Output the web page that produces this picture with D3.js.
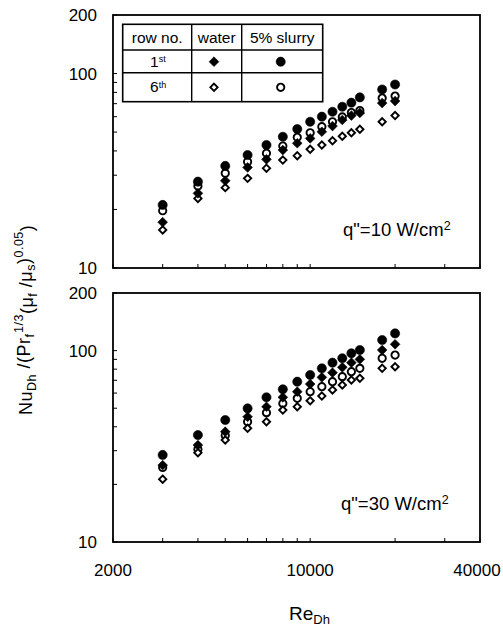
<!DOCTYPE html>
<html>
<head>
<meta charset="utf-8">
<script src="https://cdn.jsdelivr.net/npm/d3@7"></script>
<style>
  body { margin: 0; background: #fff; }
  svg { font-family: "Liberation Sans", Arial, Helvetica, sans-serif; }
</style>
</head>
<body>
<div id="chart"></div>
<script>
// Reynolds numbers of the measured columns
var re = [3000, 4000, 5000, 6000, 7000, 8000, 9000, 10000, 11000, 12000, 13000, 14000, 15000, 18000, 20000];

// q" = 10 W/cm2
var top_water1 = [17.2, 24.2, 28.1, 32.9, 36.2, 40.4, 43.8, 46.4, 50.2, 53.7, 57.7, 60.8, 62.7, 70.5, 72.2];
var top_slurry1 = [21.1, 27.8, 33.5, 38.1, 42.9, 47.3, 51.8, 56.5, 60.0, 63.6, 67.5, 70.8, 75.4, 82.8, 87.8];
var top_water6 = [15.7, 22.8, 25.9, 28.9, 32.6, 35.9, 37.8, 40.8, 42.9, 45.1, 47.6, 49.6, 51.7, 56.5, 60.8];
var top_slurry6 = [19.7, 26.4, 30.7, 35.2, 38.9, 42.4, 47.0, 49.6, 53.3, 56.5, 59.8, 63.0, 64.5, 74.8, 76.6];

// q" = 30 W/cm2
var bot_water1 = [25.2, 32.1, 37.7, 45.1, 50.9, 57.0, 61.0, 66.9, 72.5, 76.7, 81.8, 86.5, 90.0, 100.7, 107.9];
var bot_slurry1 = [28.5, 36.2, 43.4, 49.9, 57.0, 62.8, 68.8, 74.6, 80.8, 86.5, 91.2, 96.8, 100.7, 113.6, 123.0];
var bot_water6 = [21.3, 29.3, 34.1, 39.3, 42.5, 48.9, 50.9, 54.7, 57.9, 62.3, 66.1, 70.2, 71.7, 80.8, 82.4];
var bot_slurry6 = [24.5, 30.5, 36.0, 42.5, 47.4, 53.0, 56.3, 61.0, 64.8, 68.8, 73.1, 77.6, 80.8, 91.2, 94.8];

var xTicks = [2000, 10000, 40000];
var xMinor = [3000, 4000, 5000, 6000, 7000, 8000, 9000, 20000, 30000];
var yTicks = [10, 100, 200];
var yMinor = [20, 30, 40, 50, 60, 70, 80, 90];

var W = 503, H = 628;
var svg = d3.select("#chart").append("svg")
    .attr("width", W).attr("height", H);

var x = d3.scaleLog().domain([2000, 40000]).range([113, 480]);

var diamond = d3.symbol().type(d3.symbolDiamond2).size(60);
var circle = d3.symbol().type(d3.symbolCircle).size(66);
var odiamond = d3.symbol().type(d3.symbolDiamond2).size(34);
var ocircle = d3.symbol().type(d3.symbolCircle).size(42);

function panel(y0, y1, series, label) {
  var y = d3.scaleLog().domain([10, 200]).range([y1, y0]);
  var g = svg.append("g");

  // minor / major ticks, pointing inward
  g.selectAll(".xt")
    .data(xMinor.concat(xTicks))
    .enter().append("line")
      .attr("x1", function(d) { return x(d); })
      .attr("x2", function(d) { return x(d); })
      .attr("y1", y1)
      .attr("y2", y1 - 4)
      .attr("stroke", "#000").attr("stroke-width", 1);
  g.selectAll(".yt")
    .data(yMinor.concat(yTicks))
    .enter().append("line")
      .attr("x1", x.range()[0])
      .attr("x2", x.range()[0] + 4)
      .attr("y1", function(d) { return y(d); })
      .attr("y2", function(d) { return y(d); })
      .attr("stroke", "#000").attr("stroke-width", 1);

  g.selectAll(".yl")
    .data(yTicks)
    .enter().append("text")
      .attr("x", 97)
      .attr("y", function(d) { return y(d); })
      .attr("dy", "0.36em")
      .attr("text-anchor", "end")
      .attr("font-size", "17px")
      .text(function(d) { return d; });

  // points: open markers first, filled on top
  series.forEach(function(s) {
    g.selectAll(null)
      .data(s.values)
      .enter().append("path")
        .attr("d", s.sym)
        .attr("transform", function(d, i) { return "translate(" + x(re[i]) + "," + y(d) + ")"; })
        .attr("fill", s.fill)
        .attr("stroke", "#000")
        .attr("stroke-width", s.open ? 1.9 : 0.6);
  });

  g.append("text")
      .attr("x", label.x)
      .attr("y", y1 - 32)
      .attr("font-size", "18.5px")
      .text(label.text)
    .append("tspan")
      .attr("dy", "-0.45em")
      .attr("font-size", "12.5px")
      .text("2");

  g.append("rect")
      .attr("x", x.range()[0]).attr("y", y0)
      .attr("width", x.range()[1] - x.range()[0])
      .attr("height", y1 - y0)
      .attr("fill", "none")
      .attr("stroke", "#000").attr("stroke-width", 1.8);
}

panel(15, 268, [
  {values: top_slurry6, sym: ocircle, fill: "#fff", open: true},
  {values: top_water6, sym: odiamond, fill: "#fff", open: true},
  {values: top_water1, sym: diamond, fill: "#000"},
  {values: top_slurry1, sym: circle, fill: "#000"}
], {x: 343, text: 'q"=10 W/cm'});

panel(293, 542, [
  {values: bot_slurry6, sym: ocircle, fill: "#fff", open: true},
  {values: bot_water6, sym: odiamond, fill: "#fff", open: true},
  {values: bot_water1, sym: diamond, fill: "#000"},
  {values: bot_slurry1, sym: circle, fill: "#000"}
], {x: 341, text: 'q"=30 W/cm'});

// x tick labels
svg.selectAll(".xl")
  .data(xTicks)
  .enter().append("text")
    .attr("x", function(d) { return Math.min(x(d), 477); })
    .attr("y", 576)
    .attr("text-anchor", "middle")
    .attr("font-size", "17px")
    .text(function(d) { return d; });

// x axis title
var xt = svg.append("text")
    .attr("x", 289).attr("y", 620)
    .attr("font-size", "19px");
xt.append("tspan").text("Re");
xt.append("tspan").attr("dy", "0.3em").attr("font-size", "13px").text("Dh");

// y axis title
var yt = svg.append("text")
    .attr("transform", "translate(32,415) rotate(-90)")
    .attr("font-size", "18px")
    .attr("letter-spacing", "0.5px");
yt.append("tspan").text("Nu");
yt.append("tspan").attr("dy", "0.3em").attr("font-size", "12.5px").text("Dh");
yt.append("tspan").attr("dy", "-0.3em").text(" /(Pr");
yt.append("tspan").attr("dy", "0.3em").attr("font-size", "12.5px").text("f");
yt.append("tspan").attr("dx", "0.05em").attr("dy", "-0.85em").attr("font-size", "12.5px").text("1/3");
yt.append("tspan").attr("dy", "0.55em").text("(\u03bc");
yt.append("tspan").attr("dy", "0.3em").attr("font-size", "12.5px").text("f");
yt.append("tspan").attr("dy", "-0.3em").text(" /\u03bc");
yt.append("tspan").attr("dy", "0.3em").attr("font-size", "12.5px").text("s");
yt.append("tspan").attr("dy", "-0.3em").text(")");
yt.append("tspan").attr("dy", "-0.55em").attr("font-size", "12.5px").text("0.05");
yt.append("tspan").attr("dy", "0.55em").text(")");

// legend table
var lg = svg.append("g");
var colX = [122.7, 191.7, 241.7, 322.7];
var rowY = [24.3, 50, 72.7, 101.7];
lg.append("rect")
    .attr("x", colX[0]).attr("y", rowY[0])
    .attr("width", colX[3] - colX[0]).attr("height", rowY[3] - rowY[0])
    .attr("fill", "#fff").attr("stroke", "#000").attr("stroke-width", 1.6);
[colX[1], colX[2]].forEach(function(cx) {
  lg.append("line").attr("x1", cx).attr("x2", cx).attr("y1", rowY[0]).attr("y2", rowY[3])
    .attr("stroke", "#000").attr("stroke-width", 1.4);
});
[rowY[1], rowY[2]].forEach(function(ry) {
  lg.append("line").attr("x1", colX[0]).attr("x2", colX[3]).attr("y1", ry).attr("y2", ry)
    .attr("stroke", "#000").attr("stroke-width", 1.4);
});
var headers = ["row no.", "water", "5% slurry"];
headers.forEach(function(h, i) {
  lg.append("text")
      .attr("x", (colX[i] + colX[i + 1]) / 2)
      .attr("y", 43)
      .attr("text-anchor", "middle")
      .attr("font-size", "15.5px")
      .text(h);
});
var rows = [{n: "1", s: "st", y: 61.7, d: diamond, c: circle, fill: "#000"},
            {n: "6", s: "th", y: 87.3, d: odiamond, c: ocircle, fill: "#fff"}];
rows.forEach(function(r) {
  var t = lg.append("text")
      .attr("x", 150).attr("y", r.y + 5)
      .attr("font-size", "15.5px")
      .text(r.n);
  t.append("tspan").attr("dy", "-0.5em").attr("font-size", "9px").text(r.s);
  lg.append("path").attr("d", r.d).attr("transform", "translate(214," + r.y + ")")
    .attr("fill", r.fill).attr("stroke", "#000").attr("stroke-width", r.fill == "#fff" ? 1.9 : 0.6);
  lg.append("path").attr("d", r.c).attr("transform", "translate(280.7," + r.y + ")")
    .attr("fill", r.fill).attr("stroke", "#000").attr("stroke-width", r.fill == "#fff" ? 1.9 : 0.6);
});
</script>
</body>
</html>
